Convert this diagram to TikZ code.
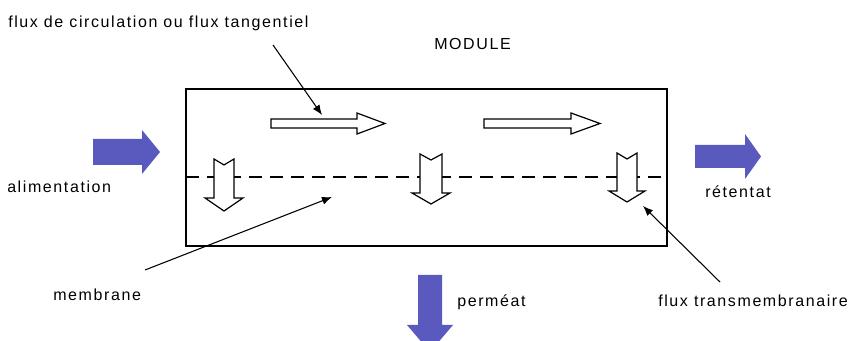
\documentclass[tikz,border=0pt]{standalone}
\usepackage{fontspec}
\setmainfont{Liberation Sans}[LetterSpace=10]
\usetikzlibrary{arrows.meta}
\definecolor{flowblue}{RGB}{90,90,190}
\begin{document}
\begin{tikzpicture}[x=0.75pt,y=-0.75pt,
  lbl/.style={anchor=base west,inner sep=0pt,font=\fontsize{12}{14}\selectfont},
  leader/.style={line width=0.8pt,-{Latex[length=7.5pt,width=6pt]}},
  wflow/.style={draw=black,fill=white,line width=0.9pt,line join=miter},
  bflow/.style={fill=flowblue},
  housing/.style={draw=black,line width=1.2pt},
  membraneline/.style={draw=black,line width=0.9pt,dash pattern=on 9.75pt off 6pt}]
  \useasboundingbox (0,0) rectangle (849,341);
  \clip (0,0) rectangle (849,341);

  % module housing and membrane
  \draw[housing] (186,89) rectangle (667,246);
  \coordinate (mL) at (186,177);
  \coordinate (mR) at (667,177);
  \draw[membraneline] (mL) -- (mR);

  % tangential flow arrows
  \draw[wflow] (271,119) -- (357,119) -- (357,113) -- (385,123.5) -- (357,134) -- (357,128) -- (271,128) -- cycle;
  \draw[wflow] (484,119) -- (571,119) -- (571,113) -- (600,123.5) -- (571,134) -- (571,128) -- (484,128) -- cycle;

  % transmembrane flow arrows
  \draw[wflow] (214,159) -- (224,165) -- (234,159) -- (234,198) -- (243,198) -- (224,211) -- (205,198) -- (214,198) -- cycle;
  \draw[wflow] (420,154) -- (431,160) -- (442,154) -- (442,193) -- (450,193) -- (431,204) -- (412,193) -- (420,193) -- cycle;
  \draw[wflow] (617,153) -- (627,159) -- (637,153) -- (637,191) -- (645,191) -- (627,202) -- (609,191) -- (617,191) -- cycle;

  % feed, retentate and permeate streams
  \fill[bflow] (93,139) -- (142,139) -- (142,130) -- (160,152) -- (142,174) -- (142,165) -- (93,165) -- cycle;
  \fill[bflow] (695,145) -- (745,145) -- (745,134) -- (761,156.5) -- (745,179) -- (745,168) -- (695,168) -- cycle;
  \fill[bflow] (418,275) -- (442,275) -- (442,325) -- (453,325) -- (430,352) -- (407,325) -- (418,325) -- cycle;

  % labels
  \node[lbl] (tangent) at (8,28) {flux de circulation ou flux tangentiel};
  \node[lbl] (module) at (434,50) {MODULE};
  \node[lbl] (feed) at (7,193) {alimentation};
  \node[lbl] (membrane) at (53,301) {membrane};
  \node[lbl] (permeate) at (457,307) {perméat};
  \node[lbl] (transm) at (658,307) {flux transmembranaire};
  \node[lbl] (retentate) at (705,198) {rétentat};

  % leader lines
  \coordinate (tA) at (273,45);
  \coordinate (tB) at (322,115);
  \coordinate (mA) at (145,270);
  \coordinate (mB) at (332,197);
  \coordinate (xA) at (720,282);
  \coordinate (xB) at (643,206);
  \draw[leader] (tA) -- (tB);
  \draw[leader] (mA) -- (mB);
  \draw[leader] (xA) -- (xB);
\end{tikzpicture}
\end{document}
